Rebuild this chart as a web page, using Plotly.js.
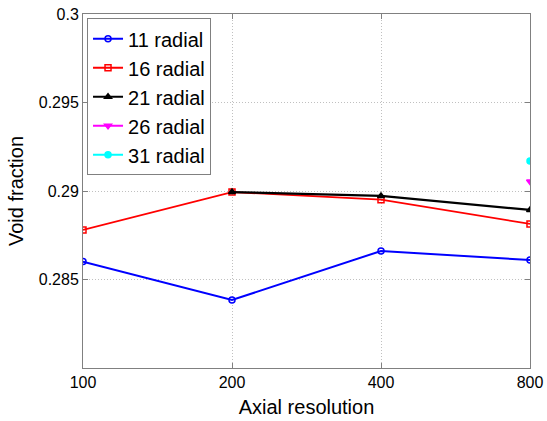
<!DOCTYPE html>
<html><head><meta charset="utf-8">
<script src="https://cdn.plot.ly/plotly-3.0.1.min.js"></script>
<style>html,body{margin:0;padding:0;background:#fff}#c{width:547px;height:421px}</style>
</head><body><div id="c"></div>
<script>
const categories = ['100','200','400','800'];
const r11 = [0.28601, 0.28384, 0.28661, 0.28610];
const r16 = [0.28780, 0.28994, 0.28951, 0.28814];
const r21 = [null, 0.28994, 0.28972, 0.28893];
const r26 = [null, null, null, 0.29053];
const r31 = [null, null, null, 0.29169];
const names = ['11 radial','16 radial','21 radial','26 radial','31 radial'];
const yTicks = [0.285, 0.29, 0.295, 0.3];
const yTickText = ['0.285','0.29','0.295','0.3'];

const series = [r11, r16, r21, r26, r31];
const colors = ['#0000ff','#ff0000','#000000','#ff00ff','#00ffff'];
const symbols = ['circle-open','square-open','triangle-up','triangle-down','circle'];
const widths = [2, 1.8, 2.2, 2, 2];
const traces = series.map((s,i)=>({
  x: categories, y: s, name: names[i], type:'scatter', mode:'lines+markers',
  legendgroup:'g'+i,
  line:{color:colors[i], width:widths[i]}, connectgaps:false,
  marker:{symbol:symbols[i], size:6, color:colors[i], line:{color:colors[i], width:1.5}}
}));

const gridStyle = {showgrid:true, gridcolor:'#c0c0c0', griddash:'1px,2px', gridwidth:1,
  showline:true, linecolor:'#808080', linewidth:1, mirror:'ticks', ticks:'inside', ticklen:5,
  tickcolor:'#808080', zeroline:false, tickfont:{size:16}};

const layout = {
  width:547, height:421,
  margin:{l:83, r:17, t:14, b:53},
  paper_bgcolor:'#fff', plot_bgcolor:'#fff',
  font:{family:'Liberation Sans, Arial, sans-serif', size:16, color:'#000'},
  xaxis:Object.assign({type:'category', range:[0,3], tickvals:categories, ticktext:categories,
    title:{text:'Axial resolution', font:{size:20}, standoff:9}}, gridStyle),
  yaxis:Object.assign({range:[0.28,0.3], tickvals:yTicks, ticktext:yTickText,
    title:{text:'Void fraction', font:{size:20}, standoff:9}}, gridStyle),
  showlegend:true,
  legend:{x:0.009, y:0.988, xanchor:'left', yanchor:'top', bgcolor:'#fff',
    bordercolor:'#808080', borderwidth:1, font:{size:20}, tracegroupgap:0, itemwidth:30,
    traceorder:'grouped'}
};
Plotly.newPlot('c', traces, layout, {displayModeBar:false, staticPlot:true});
</script></body></html>
